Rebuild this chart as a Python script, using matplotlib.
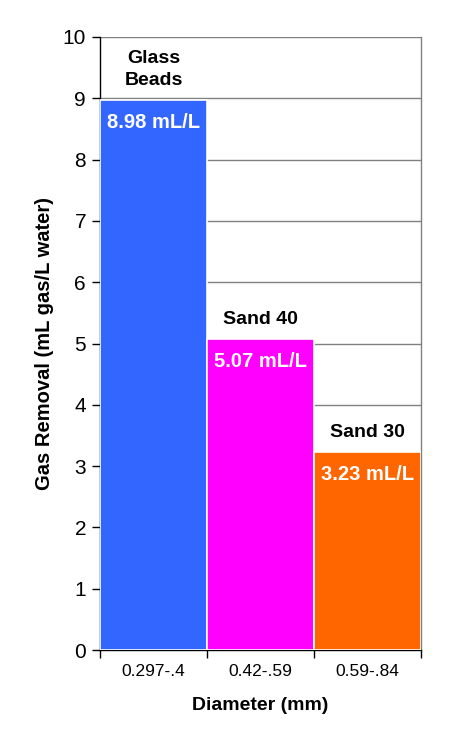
import matplotlib
matplotlib.use("Agg")
import matplotlib.pyplot as plt

categories = ["0.297-.4", "0.42-.59", "0.59-.84"]
values = [8.98, 5.07, 3.23]
names = ["Glass\nBeads", "Sand 40", "Sand 30"]
value_labels = ["8.98 mL/L", "5.07 mL/L", "3.23 mL/L"]
colors = ["#3366FF", "#FF00FF", "#FF6600"]
yticks = list(range(0, 11))

plt.rcParams['font.family'] = ['Liberation Sans', 'DejaVu Sans']

fig = plt.figure(figsize=(4.64, 7.47), dpi=100)
ax = fig.add_axes([100/464, 1-650/747, 321/464, 613/747])

x = list(range(len(categories)))
ax.bar(x, values, width=1.0, color=colors, edgecolor="white", linewidth=1.2, zorder=3)
ax.set_xlim(-0.5, 2.5)
ax.set_ylim(0, 10)
ax.set_yticks(yticks)
ax.yaxis.grid(True, color="#808080", linewidth=1, zorder=0)
ax.set_axisbelow(True)

ax.set_xticks([-0.5, 0.5, 1.5, 2.5])
ax.set_xticklabels([])
ax.set_xticks(x, minor=True)
ax.set_xticklabels(categories, minor=True, fontsize=12.5)
ax.tick_params(axis="x", which="minor", length=0, pad=10)
ax.tick_params(axis="x", which="major", length=6, width=1, direction="out")
ax.tick_params(axis="y", length=6, width=1, labelsize=15, pad=4)

for s in ["left", "bottom"]:
    ax.spines[s].set_color("black")
    ax.spines[s].set_linewidth(1)
for s in ["top", "right"]:
    ax.spines[s].set_color("#808080")
    ax.spines[s].set_linewidth(1)
ax.spines["top"].set_visible(False)

for i, v in enumerate(values):
    ax.text(i, v + 0.24, names[i], ha="center", va="baseline", fontsize=14,
            fontweight="bold", color="black", linespacing=1.35)
    ax.text(i, v - 0.37, value_labels[i], ha="center", va="center", fontsize=14.5,
            fontweight="bold", color="white")

ax.set_xlabel("Diameter (mm)", fontsize=14, fontweight="bold", labelpad=13)
ax.set_ylabel("Gas Removal (mL gas/L water)", fontsize=14.5, fontweight="bold", labelpad=6)

fig.savefig("out.png", dpi=100)
